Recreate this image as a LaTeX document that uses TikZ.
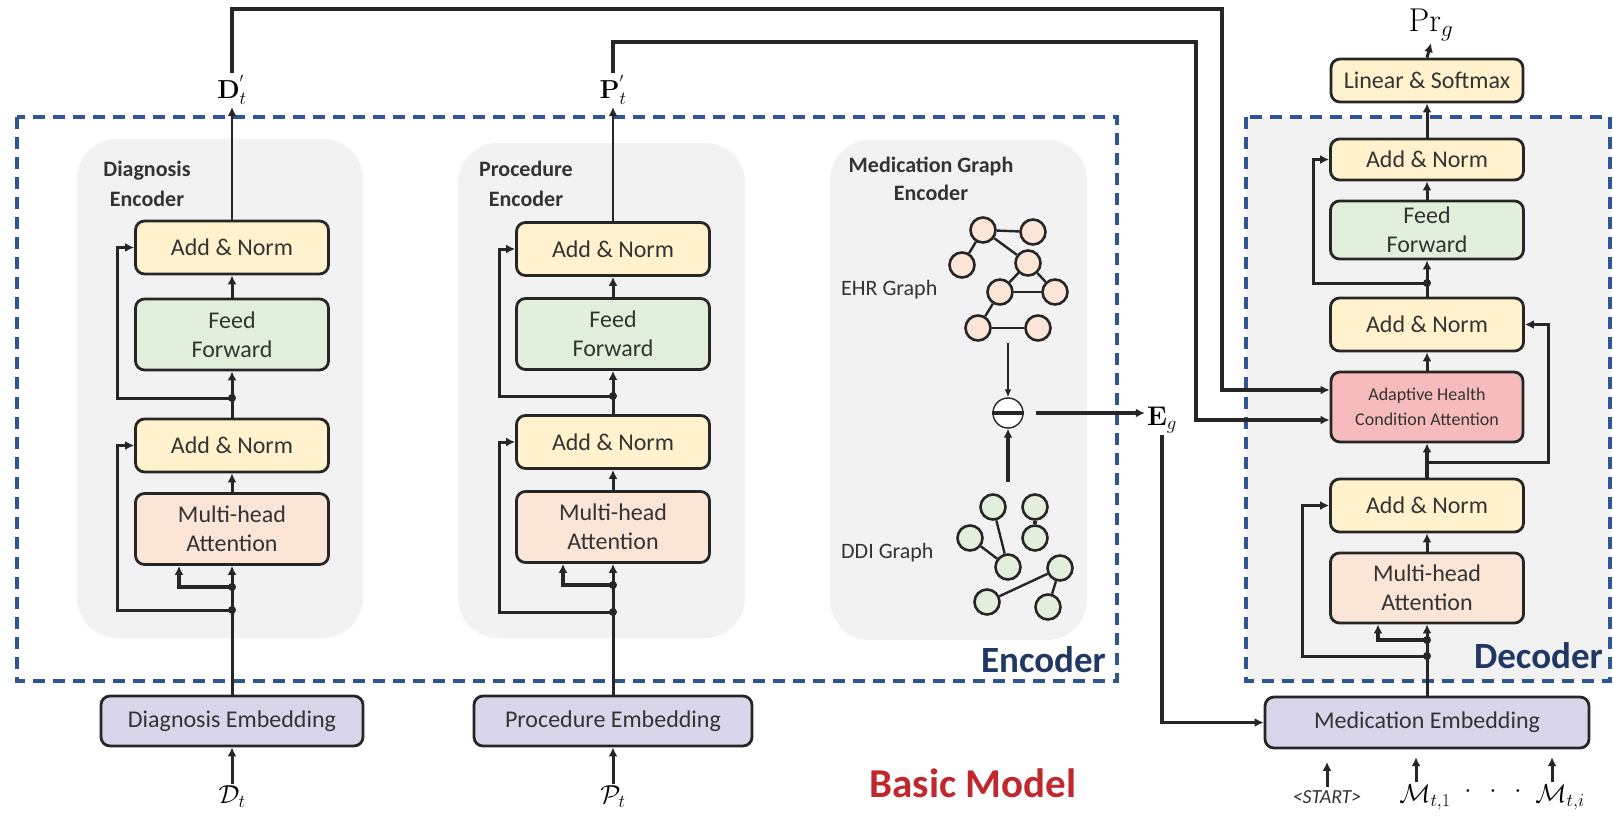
\RequirePackage{fix-cm}
\documentclass[tikz,border=0pt]{standalone}
\usepackage[no-math]{fontspec}
\setmainfont{Carlito}
\usetikzlibrary{arrows.meta}
\definecolor{linec}{HTML}{262626}
\definecolor{yel}{HTML}{FFF2CC}
\definecolor{grn}{HTML}{E2EFDA}
\definecolor{pch}{HTML}{FBE5D6}
\definecolor{pnk}{HTML}{F8BBBB}
\definecolor{lav}{HTML}{D9D6EB}
\definecolor{pnl}{HTML}{F2F2F2}
\definecolor{dsh}{HTML}{2F5597}
\definecolor{navy}{HTML}{1F3864}
\definecolor{redt}{HTML}{C0282D}
\definecolor{txt}{HTML}{333333}
\newcommand\myfm{\fontsize{24}{29}\selectfont}
\newcommand\myfs{\fontsize{18}{25}\selectfont}
\newcommand\myfl{\fontsize{22}{30}\selectfont\bfseries}
\newcommand\myfmath{\fontsize{26}{30}\selectfont}
\tikzset{
  blk/.style={draw=linec, line width=2.8pt, rounded corners=9pt, inner sep=0pt, align=center, text=txt, font=\myfm},
  an/.style={blk, fill=yel, minimum width=193pt, minimum height=53pt},
  ff/.style={blk, fill=grn, minimum width=193pt, minimum height=71pt},
  mh/.style={blk, fill=pch, minimum width=193pt, minimum height=71pt},
  emb/.style={blk, fill=lav, minimum height=50pt},
  arr/.style={draw=linec, line width=3pt, -{Latex[length=9pt,width=9pt]}},
  pnlst/.style={fill=pnl, rounded corners=40pt},
  dbox/.style={draw=dsh, line width=3.5pt, dash pattern=on 12pt off 8pt},
  gn/.style={circle, draw=linec, line width=2.6pt, minimum size=25pt, inner sep=0pt},
  ge/.style={draw=linec, line width=2.4pt},
  lab/.style={font=\myfmath, text=black, inner sep=2pt},
  dotj/.style={fill=linec},
}
\begin{document}
\begin{tikzpicture}[x=1pt,y=-1pt]
\useasboundingbox (0,0) rectangle (1613,815);
% decoder background
\fill[pnl] (1246,117) rectangle (1610,681);
% panels
\fill[pnlst] (77,139) rectangle (363,638);
\fill[pnlst] (458,143) rectangle (745,638);
\fill[pnlst] (830,140) rectangle (1087,640);
% dashed boxes
\draw[dbox] (17,117) rectangle (1117,681);
\draw[dbox] (1246,117) rectangle (1610,681);

% panel titles
\node[font=\myfl, text=txt, align=center] (tD) at (147,184) {Diagnosis\\Encoder};
\node[font=\myfl, text=txt, align=center] (tP) at (526,184) {Procedure\\Encoder};
\node[font=\fontsize{22}{28}\selectfont\bfseries, text=txt, align=center] (tM) at (931,179) {Medication Graph\\Encoder};
\node[font=\fontsize{22}{26}\selectfont, text=txt, anchor=west, inner sep=0pt] (tE) at (841,290) {EHR Graph};
\node[font=\fontsize{22}{26}\selectfont, text=txt, anchor=west, inner sep=0pt] (tDD) at (841,553) {DDI Graph};
\node[font=\fontsize{37}{40}\selectfont\bfseries, text=navy, anchor=base east, inner sep=0pt] (encL) at (1106,672) {Encoder};
\node[font=\fontsize{37}{40}\selectfont\bfseries, text=navy, anchor=base east, inner sep=0pt] (decL) at (1603,668) {Decoder};
\node[font=\fontsize{41}{44}\selectfont\bfseries, text=redt, anchor=base, inner sep=0pt] (bm) at (973,797) {Basic Model};

% ---------- Diagnosis column ----------
\node[an] (dAN1) at (232,247.5) {Add \& Norm};
\node[ff] (dFF) at (232,334.5) {Feed\\Forward};
\node[an] (dAN2) at (232,445.5) {Add \& Norm};
\node[mh] (dMHA) at (232,529) {Multi-head\\Attention};
\node[emb, minimum width=262pt] (dEmb) at (232,721) {Diagnosis Embedding};
\node[lab] (Dt) at (232,797) {$\mathcal{D}_t$};
\node[lab] (Dp) at (232,90) {$\mathbf{D}^{'}_t$};
\coordinate (dT) at (232,398);
\coordinate (dS) at (232,587);
\coordinate (dB) at (232,610);
\draw[arr] (dEmb.north) -- (dMHA.south);
\draw[arr, line width=3.6pt] (dS) -| ([xshift=-53pt]dMHA.south);
\draw[arr] (dB) -- (117,610) |- (dAN2.west);
\draw[arr] (dMHA.north) -- (dAN2.south);
\draw[arr] (dAN2.north) -- (dFF.south);
\draw[arr] (dT) -- (117,398) |- (dAN1.west);
\draw[arr] (dFF.north) -- (dAN1.south);
\draw[arr, line width=2.6pt] (dAN1.north) -- (Dp.south);
\draw[arr] (Dt.north) -- (dEmb.south);
\foreach \c in {dT,dS,dB} \fill[dotj] (\c) circle (4pt);

% ---------- Procedure column ----------
\node[an] (pAN1) at (613,249) {Add \& Norm};
\node[ff] (pFF) at (613,334) {Feed\\Forward};
\node[an] (pAN2) at (613,442) {Add \& Norm};
\node[mh] (pMHA) at (613,527) {Multi-head\\Attention};
\node[emb, minimum width=278pt] (pEmb) at (613,721) {Procedure Embedding};
\node[lab] (Pt) at (613,797) {$\mathcal{P}_t$};
\node[lab] (Pp) at (613,90) {$\mathbf{P}^{'}_t$};
\coordinate (pT) at (613,396);
\coordinate (pS) at (613,585);
\coordinate (pB) at (613,612);
\draw[arr] (pEmb.north) -- (pMHA.south);
\draw[arr, line width=3.6pt] (pS) -| ([xshift=-50pt]pMHA.south);
\draw[arr] (pB) -- (499,612) |- (pAN2.west);
\draw[arr] (pMHA.north) -- (pAN2.south);
\draw[arr] (pAN2.north) -- (pFF.south);
\draw[arr] (pT) -- (499,396) |- (pAN1.west);
\draw[arr] (pFF.north) -- (pAN1.south);
\draw[arr, line width=2.6pt] (pAN1.north) -- (Pp.south);
\draw[arr] (Pt.north) -- (pEmb.south);
\foreach \c in {pT,pS,pB} \fill[dotj] (\c) circle (4pt);

% ---------- Medication graph ----------
\begin{scope}[every node/.style={gn, fill=pch}]
\node (e1) at (983,230) {};
\node (e2) at (1033,232) {};
\node (e3) at (962,265) {};
\node (e4) at (1028,263) {};
\node (e5) at (1000,292) {};
\node (e6) at (1055,292) {};
\node (e7) at (978,328) {};
\node (e8) at (1038,328) {};
\end{scope}
\foreach \a/\b in {e1/e2,e1/e3,e1/e4,e4/e5,e4/e6,e5/e6,e5/e7,e7/e8}
  \draw[ge] (\a) -- (\b);
\begin{scope}[every node/.style={gn, fill=grn}]
\node (g1) at (993,507) {};
\node (g2) at (1035,507) {};
\node (g3) at (1035,538) {};
\node (g4) at (970,538) {};
\node (g5) at (1008,567) {};
\node (g6) at (1060,568) {};
\node (g7) at (987,602) {};
\node (g8) at (1048,607) {};
\end{scope}
\foreach \a/\b in {g1/g5,g4/g5,g7/g6,g6/g8}
  \draw[ge] (\a) -- (\b);
\draw[draw=linec, line width=4pt] (g2) -- (g3);

\node[circle, draw=linec, line width=1.4pt, fill=white, minimum size=30pt, inner sep=0pt] (comb) at (1008,413) {};
\draw[draw=linec, line width=4pt] (comb.west) -- (comb.east);
\coordinate (ehrOut) at (1008,343);
\coordinate (ddiIn) at (1008,482);
\draw[draw=linec, line width=1.8pt, -{Latex[length=8pt,width=7pt]}] (ehrOut) -- (comb.north);
\draw[arr, line width=3.5pt] (ddiIn) -- (comb.south);
\node[lab, font=\fontsize{27}{30}\selectfont] (Eg) at (1162,420) {$\mathbf{E}_g$};
\draw[arr, line width=4pt] ([xshift=12pt]comb.east) -- (comb.east -| Eg.west);

% ---------- Decoder ----------
\node[blk, fill=yel, minimum width=192pt, minimum height=43pt] (lin) at (1427,80.5) {Linear \& Softmax};
\node[lab, font=\fontsize{33}{36}\selectfont] (Pr) at (1431,25) {$\mathrm{Pr}_g$};
\node[an, minimum height=41pt] (tAN) at (1427,159.5) {Add \& Norm};
\node[ff, minimum height=58pt] (tFF) at (1427,230) {Feed\\Forward};
\node[an] (mAN) at (1427,324.5) {Add \& Norm};
\node[blk, fill=pnk, minimum width=192pt, minimum height=70pt, font=\myfs] (ahca) at (1427,407) {Adaptive Health\\Condition Attention};
\node[an] (bAN) at (1427,505.5) {Add \& Norm};
\node[mh, minimum height=70pt] (mh3) at (1427,588) {Multi-head\\Attention};
\node[emb, minimum width=324pt, minimum height=51pt] (medEmb) at (1427,722.5) {Medication Embedding};
\coordinate (qT) at (1427,283);
\coordinate (qR) at (1427,462);
\coordinate (qS) at (1427,640);
\coordinate (qB) at (1427,656);
\draw[arr] (medEmb.north) -- (mh3.south);
\draw[arr, line width=3.6pt] (qS) -| ([xshift=-49pt]mh3.south);
\draw[arr] (qB) -- (1302,656) |- (bAN.west);
\draw[arr] (mh3.north) -- (bAN.south);
\draw[arr, line width=3.6pt] (bAN.north) -- (ahca.south);
\draw[arr] (qR) -- (1548,462) |- (mAN.east);
\draw[arr] (ahca.north) -- (mAN.south);
\draw[arr] (mAN.north) -- (tFF.south);
\draw[arr] (qT) -- (1313,283) |- (tAN.west);
\draw[arr] (tFF.north) -- (tAN.south);
\draw[arr] (tAN.north) -- (lin.south);
\draw[arr] (lin.north) -- (Pr.south);
\foreach \c in {qT,qS,qB} \fill[dotj] (\c) circle (4pt);

% cross connections
\draw[arr, line width=3.4pt] (Dp.north) -- (232,9) -- (1222,9) |- ([yshift=17pt]ahca.west);
\draw[arr, line width=3.4pt] (Pp.north) -- (613,42) -- (1196,42) |- ([yshift=-13pt]ahca.west);
\draw[arr, line width=3.4pt] (Eg.south) |- (medEmb.west);

% decoder inputs
\node[font=\itshape\fontsize{20}{24}\selectfont, text=txt] (st) at (1327,797) {<START>};
\node[lab] (m1) at (1425,797) {$\mathcal{M}_{t,1}$};
\node[lab] (mi) at (1560,797) {$\mathcal{M}_{t,i}$};
\node[lab] (dd) at (1493,792) {$\cdot\hspace{12pt}\cdot\hspace{12pt}\cdot$};
\draw[arr] (st.north) -- ++(0,-25);
\draw[arr] ([xshift=-9pt]m1.north) -- ++(0,-25);
\draw[arr] ([xshift=-8pt]mi.north) -- ++(0,-25);
\end{tikzpicture}
\end{document}
